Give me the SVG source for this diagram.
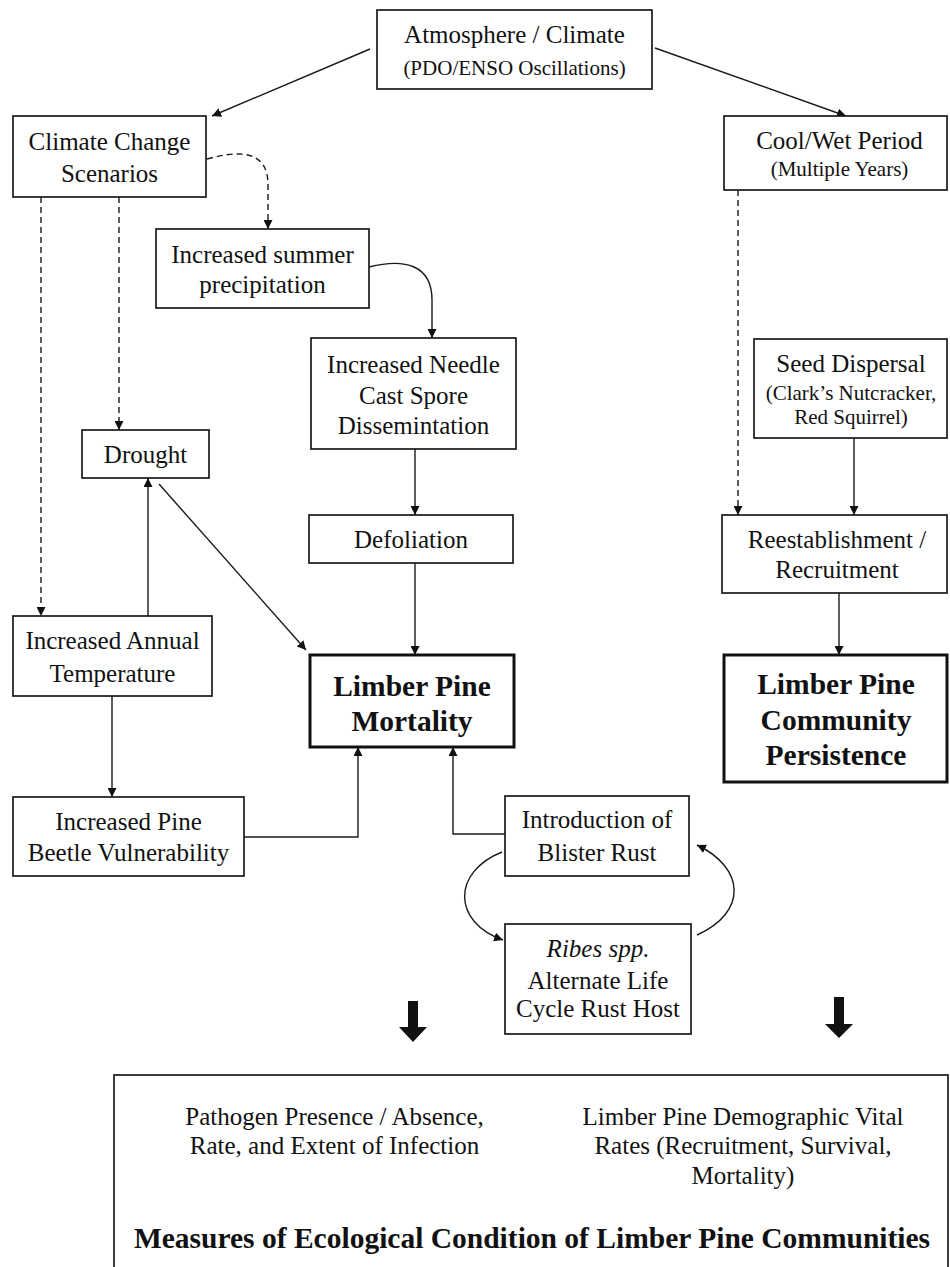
<svg xmlns="http://www.w3.org/2000/svg" width="950" height="1267" viewBox="0 0 950 1267">
  <defs>
    <marker id="arrow" viewBox="0 0 10 10" refX="10" refY="5" markerWidth="9" markerHeight="9" markerUnits="userSpaceOnUse" orient="auto">
      <path d="M0,0 L10,5 L0,10 Z" fill="#111"/>
    </marker>
    <style>
      .box { fill: #fff; stroke: #1a1a1a; stroke-width: 1.7; }
      .box-strong { fill: #fff; stroke: #111; stroke-width: 3; }
      text { font-family: "Liberation Serif", "DejaVu Serif", serif; fill: #111; text-anchor: middle; }
      .t { font-size: 25px; }
      .ts { font-size: 21px; }
      .tb { font-size: 29.5px; font-weight: bold; }
      .link { fill: none; stroke: #1a1a1a; stroke-width: 1.4; marker-end: url(#arrow); }
      .dash { stroke-dasharray: 6 4; }
      .block { fill: #111; }
    </style>
  </defs>
  <rect width="950" height="1267" fill="#fff"/>

  <!-- connectors -->
  <g id="connectors">
    <path class="link" d="M370,49 L212,116"/>
    <path class="link" d="M655,48 L846,116"/>
    <path class="link dash" d="M207,159 C240,150 268,150 268,185 L268,229"/>
    <path class="link" d="M369,267 C405,258 432,265 432,300 L432,338"/>
    <path class="link dash" d="M119,197 L119,430"/>
    <path class="link dash" d="M41,197 L41,616"/>
    <path class="link dash" d="M738,190 L738,515"/>
    <path class="link" d="M854,438 L854,515"/>
    <path class="link" d="M839,593 L839,655"/>
    <path class="link" d="M415,449 L415,515"/>
    <path class="link" d="M415,563 L415,655"/>
    <path class="link" d="M148,616 L148,478"/>
    <path class="link" d="M159,484 L306,650" stroke="#444" stroke-width="2"/>
    <path class="link" d="M112,696 L112,797"/>
    <path class="link" d="M244,837 L358,837 L358,747"/>
    <path class="link" d="M505,834 L453,834 L453,747"/>
    <path class="link" d="M502,852 C452,872 452,922 503,940"/>
    <path class="link" d="M697,935 C748,912 745,868 697,845"/>
    <!-- block arrows toward the measures panel -->
    <path class="block" d="M408,1001 L418,1001 L418,1027 L427,1027 L413,1042 L399,1027 L408,1027 Z"/>
    <path class="block" d="M834,997 L844,997 L844,1024 L853,1024 L839,1038 L825,1024 L834,1024 Z"/>
  </g>

  <g id="atmosphere">
    <rect class="box" x="377" y="10" width="275" height="79"/>
    <text class="t" x="514.5" y="43">Atmosphere / Climate</text>
    <text class="ts" x="514.5" y="75">(PDO/ENSO Oscillations)</text>
  </g>

  <g id="climate-change">
    <rect class="box" x="13" y="116" width="193" height="81"/>
    <text class="t" x="109.5" y="150">Climate Change</text>
    <text class="t" x="109.5" y="182">Scenarios</text>
  </g>

  <g id="cool-wet">
    <rect class="box" x="724" y="116" width="223" height="74"/>
    <text class="t" x="839.5" y="149">Cool/Wet Period</text>
    <text class="ts" x="839.5" y="176">(Multiple Years)</text>
  </g>

  <g id="summer-precip">
    <rect class="box" x="156" y="229" width="213" height="79"/>
    <text class="t" x="262.5" y="263">Increased summer</text>
    <text class="t" x="262.5" y="293">precipitation</text>
  </g>

  <g id="needle-cast">
    <rect class="box" x="311" y="338" width="205" height="111"/>
    <text class="t" x="413.5" y="373">Increased Needle</text>
    <text class="t" x="413.5" y="404">Cast Spore</text>
    <text class="t" x="413.5" y="434">Dissemintation</text>
  </g>

  <g id="drought">
    <rect class="box" x="82" y="430" width="127" height="48"/>
    <text class="t" x="145.5" y="463">Drought</text>
  </g>

  <g id="defoliation">
    <rect class="box" x="309" y="515" width="204" height="48"/>
    <text class="t" x="411" y="548">Defoliation</text>
  </g>

  <g id="seed-dispersal">
    <rect class="box" x="754" y="339" width="193" height="99"/>
    <text class="t" x="851" y="372">Seed Dispersal</text>
    <text class="ts" x="851" y="400">(Clark’s Nutcracker,</text>
    <text class="ts" x="851" y="424">Red Squirrel)</text>
  </g>

  <g id="reestablishment">
    <rect class="box" x="722" y="515" width="225" height="78"/>
    <text class="t" x="837" y="548">Reestablishment /</text>
    <text class="t" x="837" y="578">Recruitment</text>
  </g>

  <g id="annual-temp">
    <rect class="box" x="13" y="616" width="199" height="80"/>
    <text class="t" x="112.5" y="649">Increased Annual</text>
    <text class="t" x="112.5" y="682">Temperature</text>
  </g>

  <g id="mortality">
    <rect class="box-strong" x="310" y="655" width="204" height="92"/>
    <text class="tb" x="412" y="696">Limber Pine</text>
    <text class="tb" x="412" y="731">Mortality</text>
  </g>

  <g id="persistence">
    <rect class="box-strong" x="724" y="655" width="223" height="127"/>
    <text class="tb" x="836" y="694">Limber Pine</text>
    <text class="tb" x="836" y="730">Community</text>
    <text class="tb" x="836" y="765">Persistence</text>
  </g>

  <g id="beetle">
    <rect class="box" x="13" y="797" width="231" height="79"/>
    <text class="t" x="128.5" y="830">Increased Pine</text>
    <text class="t" x="128.5" y="861">Beetle Vulnerability</text>
  </g>

  <g id="blister-rust">
    <rect class="box" x="505" y="796" width="184" height="80"/>
    <text class="t" x="597" y="828">Introduction of</text>
    <text class="t" x="597" y="861">Blister Rust</text>
  </g>

  <g id="ribes">
    <rect class="box" x="505" y="924" width="186" height="110"/>
    <text class="t" x="598" y="957" font-style="italic">Ribes spp.</text>
    <text class="t" x="598" y="989">Alternate Life</text>
    <text class="t" x="598" y="1017">Cycle Rust Host</text>
  </g>

  <g id="measures">
    <rect class="box" x="114" y="1075" width="834" height="220"/>
    <text class="t" x="334.5" y="1125">Pathogen Presence / Absence,</text>
    <text class="t" x="334.5" y="1154">Rate, and Extent of Infection</text>
    <text class="t" x="743" y="1125">Limber Pine Demographic Vital</text>
    <text class="t" x="743" y="1154">Rates (Recruitment, Survival,</text>
    <text class="t" x="743" y="1184">Mortality)</text>
    <text class="tb" x="532" y="1248">Measures of Ecological Condition of Limber Pine Communities</text>
  </g>
</svg>
